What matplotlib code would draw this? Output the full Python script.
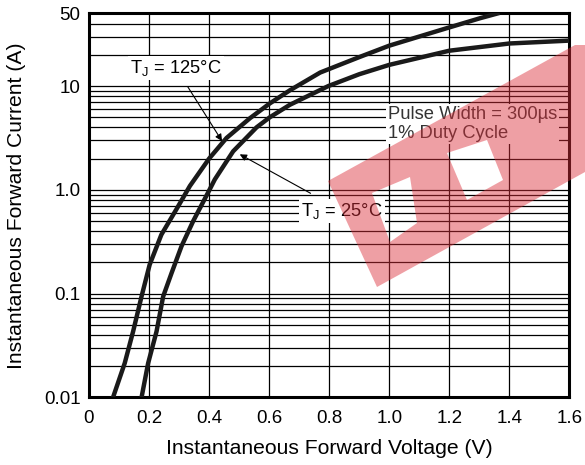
import matplotlib
matplotlib.use('Agg')
import matplotlib.pyplot as plt
from matplotlib.patches import PathPatch
from matplotlib.path import Path
import numpy as np

plt.rcParams['font.family'] = ['Liberation Sans', 'DejaVu Sans']

# forward current (A) vs forward voltage (V)
v_125 = [0.080, 0.119, 0.147, 0.175, 0.202, 0.241, 0.291, 0.336, 0.40, 0.458,
         0.536, 0.602, 0.669, 0.77, 0.90, 1.0, 1.10, 1.19, 1.302, 1.36]
i_125 = [0.01, 0.0214, 0.0433, 0.094, 0.19, 0.37, 0.649, 1.09, 2.0, 3.16,
         4.9, 6.8, 9.1, 13.5, 19.0, 24.5, 30.0, 36.0, 45.0, 50]

v_25 = [0.175, 0.197, 0.225, 0.247, 0.275, 0.308, 0.347, 0.402, 0.419, 0.48,
        0.558, 0.602, 0.669, 0.797, 0.90, 1.0, 1.2, 1.4, 1.6]
i_25 = [0.01, 0.0214, 0.0433, 0.094, 0.158, 0.286, 0.50, 1.01, 1.26, 2.35,
        4.0, 5.0, 6.6, 10.0, 13.0, 16.0, 21.9, 25.7, 27.4]

x_ticks = [0, 0.2, 0.4, 0.6, 0.8, 1.0, 1.2, 1.4, 1.6]
x_labels = ['0', '0.2', '0.4', '0.6', '0.8', '1.0', '1.2', '1.4', '1.6']
y_ticks = [0.01, 0.1, 1.0, 10, 50]
y_labels = ['0.01', '0.1', '1.0', '10', '50']

fig = plt.figure(figsize=(5.85, 4.65), dpi=100)
ax = fig.add_axes([0.1521, 0.1452, 0.8214, 0.8258])

ax.set_yscale('log')
ax.set_xlim(0, 1.6)
ax.set_ylim(0.01, 50)

ax.set_xticks(x_ticks)
ax.set_xticklabels(x_labels)
ax.set_yticks(y_ticks)
ax.set_yticklabels(y_labels)
ax.yaxis.set_minor_locator(matplotlib.ticker.LogLocator(base=10, subs=np.arange(2, 10)))
ax.yaxis.set_minor_formatter(matplotlib.ticker.NullFormatter())
ax.grid(True, which='both', axis='y', color='black', lw=0.9)
ax.grid(True, which='major', axis='x', color='black', lw=0.9)
ax.tick_params(which='both', length=0, labelsize=13.5, colors='black')
ax.tick_params(axis='x', pad=9)
ax.tick_params(axis='y', pad=6)

for s in ax.spines.values():
    s.set_linewidth(2.2)

ax.plot(v_125, i_125, color='#1a1a1a', lw=3.2, zorder=3, solid_joinstyle='round')
ax.plot(v_25, i_25, color='#1a1a1a', lw=3.2, zorder=3, solid_joinstyle='round')

ax.set_xlabel('Instantaneous Forward Voltage (V)', fontsize=15.2)
ax.set_ylabel('Instantaneous Forward Current (A)', fontsize=15.2)
ax.xaxis.label.set_va('center')
ax.yaxis.label.set_va('center')
ax.xaxis.set_label_coords(0.5, -0.134)
ax.yaxis.set_label_coords(-0.15, 0.5)

box = dict(facecolor='white', edgecolor='none', pad=1.5)
ax.annotate(r'T$_\mathregular{J}$ = 125°C', xy=(0.443, 2.95), xytext=(0.289, 15),
            fontsize=13.2, ha='center', va='center', bbox=box, zorder=4,
            arrowprops=dict(arrowstyle='-|>', color='black', lw=0.8,
                            mutation_scale=10, shrinkA=6, shrinkB=0))
ax.annotate(r'T$_\mathregular{J}$ = 25°C', xy=(0.502, 2.2), xytext=(0.843, 0.63),
            fontsize=13.2, ha='center', va='center', bbox=box, zorder=4,
            arrowprops=dict(arrowstyle='-|>', color='black', lw=0.8,
                            mutation_scale=10, shrinkA=8, shrinkB=0))
ax.text(0.995, 4.3, 'Pulse Width = 300µs\n1% Duty Cycle', fontsize=13.2, color='#333333',
        ha='left', va='center', linespacing=1.2, bbox=box, zorder=4)

# red watermark logo (figure pixel coords, top-left origin), with two cut-outs
def px(pts):
    return [(x / 585, 1 - y / 465) for x, y in pts]

outer = px([(328, 181), (575, 45), (585, 45), (585, 172), (377, 287)])
hole1 = px([(372, 193), (390, 242), (417, 223), (410, 177)])
hole2 = px([(447, 153), (467, 200), (503, 180), (487, 140)])
verts, codes = [], []
for ring in (outer, hole1, hole2):
    verts += ring + [ring[0]]
    codes += [Path.MOVETO] + [Path.LINETO] * (len(ring) - 1) + [Path.CLOSEPOLY]
fig.patches.append(PathPatch(Path(verts, codes), transform=fig.transFigure,
                             facecolor='#dc2f3a', alpha=0.46, edgecolor='none', zorder=10))

fig.savefig('out.png', dpi=100)
